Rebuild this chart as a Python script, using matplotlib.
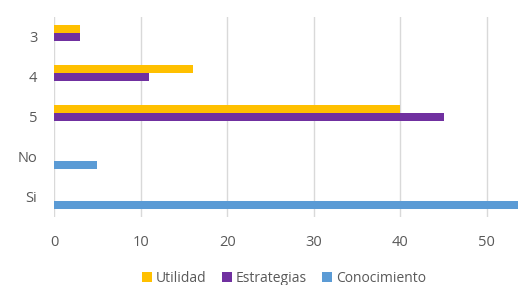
import numpy as np
import matplotlib
matplotlib.use("Agg")
import matplotlib.pyplot as plt

# data (categories listed bottom to top)
categories = ["Si", "No", "5", "4", "3"]
utilidad = [0, 0, 40, 16, 3]
estrategias = [0, 0, 45, 11, 3]
conocimiento = [55, 5, 0, 0, 0]

plt.rcParams["font.family"] = ["Open Sans", "DejaVu Sans"]
text_color = "#595959"

fig = plt.figure(figsize=(5.18, 2.85), dpi=100)
ax = fig.add_axes([54 / 518, 1 - 217 / 285, 1 - 54 / 518, 200 / 285])

y = np.arange(len(categories))
h = 0.2
ax.barh(y + h, utilidad, height=h, color="#FFC000", label="Utilidad")
ax.barh(y, estrategias, height=h, color="#7030A0", label="Estrategias")
ax.barh(y - h, conocimiento, height=h, color="#5B9BD5", label="Conocimiento")

ax.set_xlim(0, 53.6)
ax.set_ylim(-0.5, len(categories) - 0.5)
ax.set_xticks([0, 10, 20, 30, 40, 50])
ax.set_yticks(y)
ax.set_yticklabels(categories)

ax.grid(axis="x", color="#D9D9D9", linewidth=1)
ax.set_axisbelow(True)
for s in ax.spines.values():
    s.set_visible(False)
ax.tick_params(axis="both", length=0, colors=text_color, labelsize=10.5)
ax.tick_params(axis="x", pad=13)
ax.tick_params(axis="y", pad=12)

fig.legend(loc="center", bbox_to_anchor=(284 / 518, 1 - 278 / 285), ncol=3,
           frameon=False, fontsize=10, labelcolor=text_color,
           handlelength=0.7, handleheight=0.7, handletextpad=0.3,
           columnspacing=1.1)

fig.savefig("out.png", dpi=100)
